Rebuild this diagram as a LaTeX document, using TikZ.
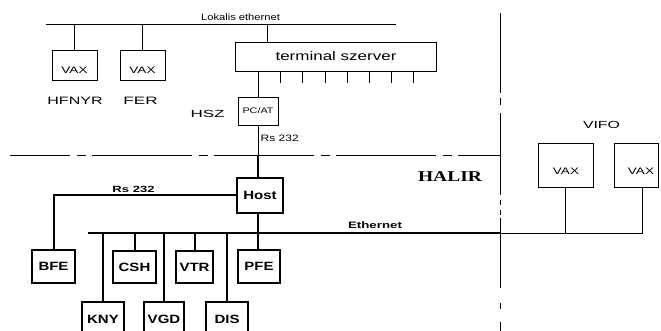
\documentclass[tikz,border=0pt]{standalone}
\usepackage{fontspec}
\setmainfont{Liberation Sans}
\newfontfamily\serifbold{Liberation Serif}
\usepackage{graphicx}
\newcommand{\sx}[2]{\scalebox{#1}[1]{#2}}
\newcommand{\fs}[1]{\fontsize{#1}{#1}\selectfont}
\tikzset{
  thinline/.style={line width=0.9pt},
  thickline/.style={line width=2pt},
  tbox/.style={draw,line width=0.9pt,inner sep=0pt},
  bbox/.style={draw,line width=2pt,inner sep=0pt},
  lbl/.style={inner sep=0pt},
}
\begin{document}
\begin{tikzpicture}[x=1pt,y=-1pt]
\useasboundingbox (0,0) rectangle (661,331);
\clip (0,0) rectangle (661,331);

% --- top: local ethernet
\coordinate (lbL) at (46,24);
\coordinate (lbR) at (396,24);
\draw[thinline] (lbL) -- (lbR);
\node[lbl] (lokt) at (240.5,17.5) {\fs{9.3}\sx{1.2}{Lokalis ethernet}};

\node[tbox,minimum width=45pt,minimum height=30pt] (vaxa) at (74.5,65.3) {};
\node[lbl] (vaxat) at (74.5,70) {\fs{9.4}\sx{1.44}{VAX}};
\node[tbox,minimum width=45pt,minimum height=30pt] (vaxb) at (142.5,65.3) {};
\node[lbl] (vaxbt) at (142.5,70) {\fs{9.4}\sx{1.44}{VAX}};
\draw[thinline] (vaxa.north |- lbL) -- (vaxa.north);
\draw[thinline] (vaxb.north |- lbL) -- (vaxb.north);
\node[lbl] (hfnyr) at (75,101) {\fs{10.7}\sx{1.5}{HFNYR}};
\node[lbl] (fer) at (140.5,101) {\fs{10.7}\sx{1.6}{FER}};

\node[tbox,minimum width=201pt,minimum height=29pt] (ts) at (336,56.5) {\fs{12.5}\sx{1.36}{terminal szerver}};
\coordinate (tstap) at (267,24);
\draw[thinline] (tstap) -- (tstap |- ts.north);
\foreach \x in {280,302,325,347,369,391,413}
  \draw[thinline] (\x,0 |- ts.south) -- ++(0,12);

\node[tbox,minimum width=40pt,minimum height=28pt] (pcat) at (258,111) {\fs{8}\sx{1.35}{PC/AT}};
\draw[thinline] (pcat.north |- ts.south) -- (pcat.north);
\node[lbl] (hsz) at (207.5,113.5) {\fs{10.3}\sx{1.65}{HSZ}};
\node[lbl,anchor=west] (rsa) at (260.5,138.5) {\fs{9.3}\sx{1.29}{Rs 232}};

% --- boundary lines
\draw[thinline,dash pattern=on 100pt off 7pt on 9pt off 6pt,dash phase=40pt] (10,155) -- (500,155);
\foreach \a/\b in {13/93,98/105,113/195,200/205,210/215,218/288,303/309,322/331}
  \draw[thinline] (500,\a) -- (500,\b);

\node[lbl] (halir) at (450,177) {\serifbold\bfseries\fs{15}\sx{1.3}{HALIR}};

% --- host side
\coordinate (hx) at (258,155);
\node[bbox,minimum width=46pt,minimum height=35pt] (host) at (260,195.5) {\bfseries\fs{12}\sx{1.25}{Host}};
\draw[thinline] (pcat.south) -- (pcat.south |- hx);
\draw[thickline] (pcat.south |- hx) -- (pcat.south |- host.north);

\node[bbox,minimum width=43pt,minimum height=33pt] (bfe) at (53.5,266.5) {\bfseries\fs{12}\sx{1.25}{BFE}};
\draw[thickline] (host.west) -| (bfe.north);
\node[lbl] (rsb) at (133.5,189) {\bfseries\fs{9}\sx{1.45}{Rs 232}};

\node[bbox,minimum width=42pt,minimum height=33pt] (pfe) at (259,266.5) {\bfseries\fs{12}\sx{1.25}{PFE}};
\draw[thickline] (pcat.south |- host.south) -- (pcat.south |- pfe.north);

\coordinate (eL) at (88,233);
\coordinate (eR) at (500,233);
\draw[thickline] (eL) -- (eR);
\node[lbl] (eth) at (375,225) {\bfseries\fs{9.3}\sx{1.43}{Ethernet}};

\node[bbox,minimum width=43pt,minimum height=32pt] (csh) at (134.5,267) {\bfseries\fs{12}\sx{1.25}{CSH}};
\node[bbox,minimum width=37pt,minimum height=32pt] (vtr) at (194.5,267) {\bfseries\fs{12}\sx{1.25}{VTR}};
\node[bbox,minimum width=42pt,minimum height=35pt] (kny) at (103,319.5) {\bfseries\fs{12}\sx{1.25}{KNY}};
\node[bbox,minimum width=40pt,minimum height=35pt] (vgd) at (164,319.5) {\bfseries\fs{12}\sx{1.25}{VGD}};
\node[bbox,minimum width=42pt,minimum height=35pt] (dis) at (227,319.5) {\bfseries\fs{12}\sx{1.25}{DIS}};
\foreach \n in {csh,vtr,kny,vgd,dis}
  \draw[thickline] (\n.north |- eL) -- (\n.north);

% --- VIFO
\node[lbl] (vifo) at (601.5,125) {\fs{10.3}\sx{1.54}{VIFO}};
\node[tbox,minimum width=55pt,minimum height=44pt] (vc) at (565.5,165) {};
\node[lbl] (vct) at (566,171) {\fs{9.4}\sx{1.44}{VAX}};
\node[tbox,minimum width=44pt,minimum height=44pt] (vd) at (636,165) {};
\node[lbl] (vdt) at (641,171) {\fs{9.4}\sx{1.44}{VAX}};
\coordinate (vR) at (642,233);
\draw[thinline] (eR) -- (vR) -- (vR |- vd.south);
\draw[thinline] (vc.south |- eR) -- (vc.south);
\end{tikzpicture}
\end{document}
